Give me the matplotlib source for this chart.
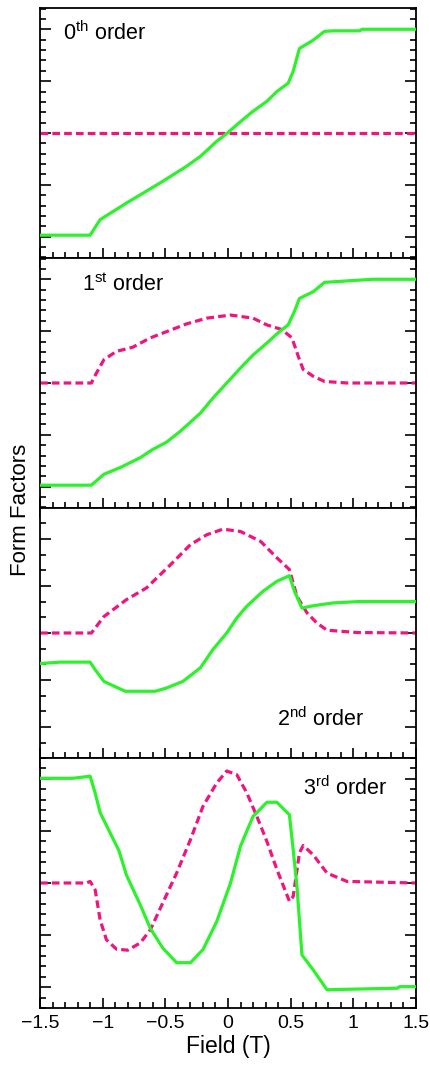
import numpy as np
import matplotlib
matplotlib.use("Agg")
import matplotlib.pyplot as plt
from matplotlib.ticker import MultipleLocator

plt.rcParams["font.family"] = ["Liberation Sans", "DejaVu Sans"]
plt.rcParams["mathtext.fontset"] = "custom"
plt.rcParams["mathtext.rm"] = "Liberation Sans"
plt.rcParams["mathtext.it"] = "Liberation Sans"

GREEN = "#2cf22c"
MAGENTA = "#f0147f"

# ---------------------------------------------------------------------------
# Form factors vs field, in units of the major y tick
# ---------------------------------------------------------------------------
# 0th order
field0_g = [-1.5, -1.10, -1.02, -0.81, -0.65, -0.52, -0.33, -0.22, -0.09, 0.0,
            0.10, 0.20, 0.31, 0.39, 0.48, 0.52, 0.57, 0.68, 0.77, 0.84, 1.05, 1.07, 1.5]
form0_g = [-1.97, -1.97, -1.67, -1.35, -1.12, -0.93, -0.64, -0.45, -0.16, 0.01,
           0.22, 0.42, 0.61, 0.80, 0.96, 1.19, 1.63, 1.79, 1.96, 1.97, 1.97, 2.0, 2.0]
field0_m = [-1.5, 1.5]
form0_m = [0.0, 0.0]

# 1st order
field1_g = [-1.5, -1.09, -0.99, -0.86, -0.70, -0.60, -0.49, -0.38, -0.22, -0.12,
            -0.01, 0.10, 0.20, 0.31, 0.41, 0.48, 0.53, 0.57, 0.68, 0.77, 0.96, 1.16, 1.5]
form1_g = [-1.97, -1.97, -1.76, -1.63, -1.44, -1.28, -1.14, -0.93, -0.58, -0.29,
           0.0, 0.29, 0.54, 0.77, 0.99, 1.12, 1.38, 1.63, 1.76, 1.94, 1.97, 2.0, 2.0]
field1_m = [-1.5, -1.09, -1.05, -0.99, -0.89, -0.76, -0.62, -0.49, -0.33, -0.17,
            0.02, 0.20, 0.31, 0.43, 0.51, 0.57, 0.60, 0.68, 0.77, 0.95, 1.5]
form1_m = [0.0, 0.0, 0.19, 0.45, 0.61, 0.69, 0.87, 0.99, 1.14, 1.25,
           1.31, 1.25, 1.12, 1.03, 0.87, 0.45, 0.26, 0.13, 0.03, 0.0, 0.0]

# 2nd order (finer y scale)
field2_g = [-1.5, -1.34, -1.10, -1.06, -0.99, -0.91, -0.82, -0.58, -0.49, -0.36,
            -0.22, -0.12, -0.01, 0.07, 0.15, 0.28, 0.39, 0.49, 0.53, 0.59, 0.68,
            0.84, 1.05, 1.5]
form2_g = [-0.65, -0.62, -0.62, -0.78, -1.03, -1.13, -1.24, -1.24, -1.17, -1.03,
           -0.74, -0.35, 0.0, 0.32, 0.57, 0.89, 1.10, 1.22, 0.89, 0.53, 0.58,
           0.64, 0.67, 0.67]
field2_m = [-1.5, -1.09, -0.99, -0.81, -0.65, -0.46, -0.30, -0.17, -0.04, 0.10,
            0.26, 0.39, 0.49, 0.55, 0.63, 0.71, 0.79, 1.03, 1.5]
form2_m = [0.0, 0.0, 0.35, 0.71, 0.96, 1.45, 1.88, 2.09, 2.21, 2.16,
           1.95, 1.60, 1.35, 0.78, 0.43, 0.21, 0.06, 0.01, 0.0]

# 3rd order
field3_g = [-1.5, -1.24, -1.10, -1.06, -1.02, -0.94, -0.87, -0.81, -0.70, -0.62,
            -0.52, -0.41, -0.30, -0.20, -0.09, 0.02, 0.10, 0.20, 0.31, 0.39,
            0.49, 0.52, 0.55, 0.59, 0.68, 0.79, 0.96, 1.35, 1.37, 1.5]
form3_g = [2.01, 2.01, 2.05, 1.73, 1.35, 0.96, 0.62, 0.15, -0.42, -0.87,
           -1.25, -1.53, -1.53, -1.28, -0.74, 0.0, 0.71, 1.28, 1.55, 1.55,
           1.31, 0.64, -0.06, -1.38, -1.67, -2.05, -2.04, -2.02, -1.99, -1.99]
field3_m = [-1.5, -1.13, -1.10, -1.06, -1.02, -0.97, -0.89, -0.80, -0.70, -0.62,
            -0.52, -0.41, -0.30, -0.20, -0.09, -0.01, 0.07, 0.15, 0.23, 0.31,
            0.39, 0.49, 0.52, 0.57, 0.60, 0.68, 0.79, 0.95, 1.5]
form3_m = [0.0, 0.0, 0.03, -0.13, -0.71, -1.09, -1.27, -1.29, -1.15, -0.90,
           -0.38, 0.19, 0.83, 1.47, 1.92, 2.15, 2.08, 1.73, 1.28, 0.80,
           0.26, -0.35, -0.26, 0.58, 0.72, 0.54, 0.19, 0.03, 0.0]

panel_labels = [r"0$^{\mathrm{th}}$ order", r"1$^{\mathrm{st}}$ order",
                r"2$^{\mathrm{nd}}$ order", r"3$^{\mathrm{rd}}$ order"]
x_ticks = [-1.5, -1, -0.5, 0, 0.5, 1, 1.5]
x_tick_labels = ["\u22121.5", "\u22121", "\u22120.5", "0", "0.5", "1", "1.5"]

panels = [
    (field0_g, form0_g, field0_m, form0_m, 2.41, 0.2, (0.061, 0.90)),
    (field1_g, form1_g, field1_m, form1_m, 2.41, 0.2, (0.112, 0.892)),
    (field2_g, form2_g, field2_m, form2_m, 2.66, 1 / 3, (0.63, 0.156)),
    (field3_g, form3_g, field3_m, form3_m, 2.40, 0.2, (0.70, 0.88)),
]

W, H = 430, 1068
fig = plt.figure(figsize=(W / 100, H / 100), dpi=100)

left, width = 40 / W, 376 / W
panel_h = 250 / H
tops = [8, 258, 508, 758]

for i, (fg, yg, fm, ym, ylim, minor, (tx, ty)) in enumerate(panels):
    ax = fig.add_axes([left, 1 - (tops[i] + 250) / H, width, panel_h])
    ax.plot(fg, yg, color=GREEN, lw=2.3, zorder=3)
    ax.plot(fm, ym, color=MAGENTA, lw=2.3, dashes=(2.4, 1.3), zorder=2)
    ax.set_xlim(-1.5, 1.5)
    ax.set_ylim(-ylim, ylim)

    for s in ax.spines.values():
        s.set_linewidth(1.3)
    ax.xaxis.set_major_locator(MultipleLocator(0.5))
    ax.xaxis.set_minor_locator(MultipleLocator(0.1))
    ax.yaxis.set_major_locator(MultipleLocator(1))
    ax.yaxis.set_minor_locator(MultipleLocator(minor))
    ax.tick_params(axis="y", which="both", direction="in", left=True, right=True,
                   labelleft=False, width=1.2)
    ax.tick_params(axis="y", which="major", length=8)
    ax.tick_params(axis="y", which="minor", length=4.5)

    if i < 3:
        ax.tick_params(axis="x", which="both", direction="inout", top=False,
                       labelbottom=False, width=1.2)
        ax.tick_params(axis="x", which="major", length=14)
        ax.tick_params(axis="x", which="minor", length=8)
    else:
        ax.tick_params(axis="x", which="both", direction="in", top=False,
                       width=1.2, labelsize=14, pad=5)
        ax.tick_params(axis="x", which="major", length=7)
        ax.tick_params(axis="x", which="minor", length=4)
        ax.set_xticks(x_ticks)
        ax.set_xticklabels(x_tick_labels)
        ax.set_xlabel("Field (T)", fontsize=16.5, labelpad=2)

    ax.text(tx, ty, panel_labels[i], transform=ax.transAxes, fontsize=15.5,
            ha="left", va="center")

fig.text(21 / W, 1 - 510 / H, "Form Factors", rotation=90, fontsize=16,
         ha="center", va="center")

fig.savefig("out.png", dpi=100)
